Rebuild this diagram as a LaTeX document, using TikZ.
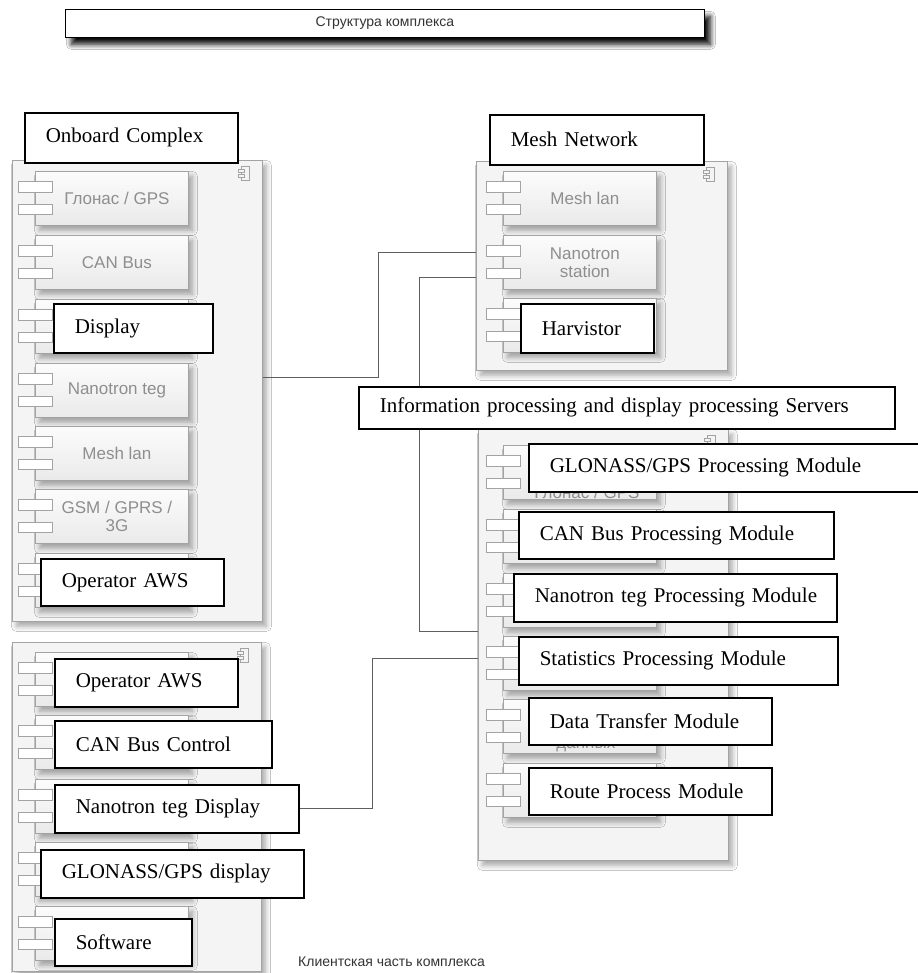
\documentclass[tikz,border=0pt]{standalone}
\usepackage{fontspec}
\setmainfont{Liberation Serif}
\setsansfont{Liberation Sans}
\usetikzlibrary{shadows.blur}

\definecolor{panelfill}{HTML}{F4F4F4}
\definecolor{paneldraw}{HTML}{A3A3A3}
\definecolor{boxtop}{HTML}{FCFCFC}
\definecolor{boxbot}{HTML}{EAEAEA}
\definecolor{greytext}{HTML}{8E8E8E}
\definecolor{wire}{HTML}{5E5E5E}
\definecolor{captext}{HTML}{333333}

\tikzset{
  softshadow/.style={blur shadow={shadow xshift=4pt, shadow yshift=-5pt,
      shadow blur radius=5pt, shadow blur steps=10, shadow opacity=35}},
  panel/.style={draw=paneldraw, fill=panelfill, line width=0.8pt,
      anchor=north west, inner sep=0pt, softshadow},
  compbox/.style={draw=paneldraw, top color=boxtop, bottom color=boxbot,
      line width=0.8pt, anchor=north west, minimum width=153pt,
      minimum height=54pt, inner sep=0pt, softshadow},
  comptext/.style={text=greytext, align=center, inner sep=0pt,
      font=\sffamily\fontsize{17}{18}\selectfont},
  port/.style={draw=paneldraw, fill=white, line width=0.8pt,
      minimum width=34pt, minimum height=10.5pt, inner sep=0pt},
  lbl/.style={draw=black, fill=white, line width=1.6pt, anchor=north west,
      inner ysep=0pt, inner xsep=21pt, align=left,
      font=\fontsize{21}{24}\selectfont},
  conn/.style={draw=wire, line width=0.8pt},
  caption/.style={text=captext, inner sep=0pt,
      font=\sffamily\fontsize{14}{16}\selectfont},
}

% container panel with the UML component icon in its top right corner
\newcommand\panelbox[5]{%
  \node[panel, minimum width=#4pt, minimum height=#5pt] (#1) at (#2,#3) {};
  \draw[draw=paneldraw, fill=panelfill, line width=0.6pt]
    ([xshift=-22pt,yshift=-6pt]#1.north east) rectangle ++(8pt,-14pt);
  \draw[draw=paneldraw, fill=panelfill, line width=0.6pt]
    ([xshift=-25pt,yshift=-9pt]#1.north east) rectangle ++(6pt,-3pt);
  \draw[draw=paneldraw, fill=panelfill, line width=0.6pt]
    ([xshift=-25pt,yshift=-14pt]#1.north east) rectangle ++(6pt,-3pt);
}
% component box with its two ports
\newcommand\subcomp[4]{%
  \node[compbox] (#1) at (#2,#3) {};
  \node[port] (#1p1) at ([yshift=-16pt]#1.north west) {};
  \node[port] (#1p2) at ([yshift=-38.5pt]#1.north west) {};
  \node[comptext] (#1t) at ([xshift=5pt]#1.center) {#4};
}
% black-framed caption box: name, x, y, width, height, text
\newcommand\lblbox[6]{%
  \node[lbl, minimum width=#4pt, minimum height=#5pt, text width=#4pt-42pt]
    (#1) at (#2,#3) {\mbox{#6}};
}

\begin{document}
\begin{tikzpicture}[x=1pt, y=-1pt]
\useasboundingbox (0,0) rectangle (917,973);
\fill[white] (0,0) rectangle (917,973);

% heading bar
\node[draw=black, fill=white, line width=0.8pt, anchor=north west,
      minimum width=639pt, minimum height=28pt, inner sep=0pt,
      blur shadow={shadow xshift=6pt, shadow yshift=-7pt,
        shadow blur radius=5pt, shadow blur steps=10, shadow opacity=95}]
  (head) at (65,9) {};
\node[caption] (headt) at (head.center) {Структура комплекса};

% containers
\panelbox{onboard}{12}{160}{250}{461}
\panelbox{mesh}{476}{161}{251}{209}
\panelbox{server}{478}{429}{250}{431}
\panelbox{client}{12}{642}{249}{329}

% connectors
\draw[conn] ([yshift=13.5pt]onboard.east) -- ++(116pt,0) |- ([yshift=13.5pt]mesh.west);
\draw[conn] ([yshift=-11.5pt]mesh.west) -- ++(-57pt,0) |- ([yshift=13.5pt]server.west);

% onboard components
\subcomp{ob1}{35}{171}{Глонас / GPS}
\subcomp{ob2}{35}{235}{CAN Bus}
\subcomp{ob3}{35}{299}{}
\subcomp{ob4}{35}{363}{Nanotron teg}
\subcomp{ob5}{35}{426}{Mesh lan}
\subcomp{ob6}{35}{489}{GSM / GPRS /\\3G}
\subcomp{ob7}{35}{553}{}

% mesh components
\subcomp{ms1}{503}{171}{Mesh lan}
\subcomp{ms2}{503}{235}{Nanotron\\station}
\subcomp{ms3}{503}{298}{}

% server components
\subcomp{sv1}{503}{445}{}
\subcomp{sv2}{503}{509}{}
\subcomp{sv3}{503}{573}{}
\subcomp{sv4}{503}{636}{}
\subcomp{sv5}{503}{699}{}
\subcomp{sv6}{503}{763}{}
\node[comptext] (sv1t2) at ([xshift=7pt,yshift=-20pt]sv1.center) {Глонас / GPS};
\node[comptext] (sv5t2) at ([xshift=6pt,yshift=-19pt]sv5.center) {данных};

% client components
\subcomp{cl1}{35}{652}{}
\subcomp{cl2}{35}{715}{}
\subcomp{cl3}{35}{779}{}
\subcomp{cl4}{35}{842}{}
\subcomp{cl5}{35}{906}{}

% captions
\lblbox{onboardl}{24}{112}{213}{50}{Onboard Complex}
\lblbox{displayl}{53}{303}{159}{49}{Display}
\lblbox{opawsl}{40}{558}{183}{47}{Operator AWS}
\lblbox{meshl}{489}{114}{214}{50}{Mesh Network}
\lblbox{harvl}{520}{303}{133}{49}{Harvistor}
\lblbox{infol}{358}{386}{536}{42}{Information processing and display processing Servers}
\lblbox{glol}{528}{443}{395}{48}{GLONASS/GPS Processing Module}
\lblbox{canl}{518}{511}{315}{47}{CAN Bus Processing Module}
\lblbox{nanol}{513}{573}{323}{48}{Nanotron teg Processing Module}
\lblbox{statl}{518}{636}{319}{48}{Statistics Processing Module}
\lblbox{datal}{528}{697}{243}{47}{Data Transfer Module}
\lblbox{routel}{528}{767}{243}{47}{Route Process Module}
\lblbox{opaws2l}{54}{658}{183}{48}{Operator AWS}
\lblbox{canctll}{54}{720}{217}{47}{CAN Bus Control}
\lblbox{ntdl}{54}{784}{244}{48}{Nanotron teg Display}
\lblbox{glodl}{40}{849}{263}{48}{GLONASS/GPS display}
\lblbox{softl}{54}{918}{137}{47}{Software}

\draw[conn] (ntdl.east) -- ++(73pt,0) |- ([yshift=-13.5pt]server.west);

\node[caption, anchor=west] (clientt) at (298,962) {Клиентская часть комплекса};
\end{tikzpicture}
\end{document}
